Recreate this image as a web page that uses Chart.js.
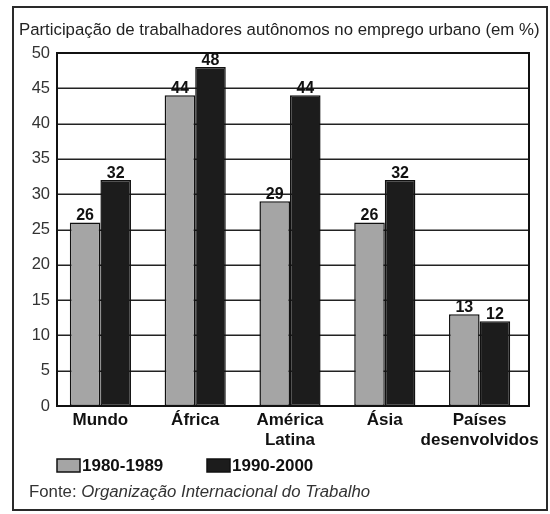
<!DOCTYPE html>
<html>
<head>
<meta charset="utf-8">
<script src="https://cdn.jsdelivr.net/npm/chart.js@4/dist/chart.umd.min.js"></script>
<style>
  html, body { margin: 0; padding: 0; background: #fff; }
  #wrap { position: relative; width: 550px; height: 514px; }
  canvas { display: block; }
</style>
</head>
<body>
<div id="wrap"><canvas id="c" width="550" height="514"></canvas></div>
<script>
// Participação de trabalhadores autônomos no emprego urbano (em %)
const categories = ['Mundo', 'África', ['América', 'Latina'], 'Ásia', ['Países', 'desenvolvidos']];
const series1980 = [26, 44, 29, 26, 13];
const series1990 = [32, 48, 44, 32, 12];
const seriesNames = ['1980-1989', '1990-2000'];
const yTicks = [0, 5, 10, 15, 20, 25, 30, 35, 40, 45, 50];
const titleText = 'Participação de trabalhadores autônomos no emprego urbano (em %)';
const sourceLabel = 'Fonte: ';
const sourceName = 'Organização Internacional do Trabalho';

const FONT = '"Liberation Sans", Arial, Helvetica, sans-serif';
const GRAY = '#a5a5a5';
const BLACK = '#1c1c1c';

// The boxed plot sits a little inside the category band on the left
const FRAME_INSET_LEFT = 4;
const FRAME_INSET_RIGHT = -2;

function frameBox(chart) {
  const a = chart.chartArea;
  return { left: a.left + FRAME_INSET_LEFT, right: a.right - FRAME_INSET_RIGHT, top: a.top, bottom: a.bottom };
}

// Horizontal grid inside the frame, value labels, frame, title, legend and source
const decorations = {
  id: 'decorations',
  beforeDatasetsDraw(chart) {
    const ctx = chart.ctx;
    const f = frameBox(chart);
    const y = chart.scales.y;
    ctx.save();
    ctx.strokeStyle = '#222';
    ctx.lineWidth = 1.5;
    yTicks.forEach(v => {
      const py = Math.round(y.getPixelForValue(v)) + 0.25;
      ctx.beginPath();
      ctx.moveTo(f.left, py);
      ctx.lineTo(f.right, py);
      ctx.stroke();
    });
    ctx.restore();
  },
  afterDatasetsDraw(chart) {
    const ctx = chart.ctx;
    const f = frameBox(chart);
    ctx.save();
    // plot frame
    ctx.strokeStyle = '#111';
    ctx.lineWidth = 2;
    ctx.strokeRect(f.left, f.top, f.right - f.left, f.bottom - f.top);

    // value labels
    ctx.fillStyle = '#111';
    ctx.font = 'bold 16px ' + FONT;
    ctx.textAlign = 'center';
    ctx.textBaseline = 'alphabetic';
    chart.data.datasets.forEach((ds, i) => {
      const meta = chart.getDatasetMeta(i);
      meta.data.forEach((bar, j) => {
        ctx.fillText(String(ds.data[j]), bar.x, bar.y - 2);
      });
    });
    ctx.restore();
  },
  afterDraw(chart) {
    const ctx = chart.ctx;
    ctx.save();
    // outer frame
    ctx.strokeStyle = '#2a2a2a';
    ctx.lineWidth = 2;
    ctx.strokeRect(13, 7, 534, 503);

    // title
    ctx.fillStyle = '#222';
    ctx.font = '16.8px ' + FONT;
    ctx.textAlign = 'left';
    ctx.textBaseline = 'middle';
    ctx.fillText(titleText, 19, 30);

    // legend
    const legendY = 465;
    const items = [
      { x: 57, w: 23, color: GRAY, text: seriesNames[0] },
      { x: 207, w: 23, color: BLACK, text: seriesNames[1] }
    ];
    items.forEach(it => {
      ctx.fillStyle = it.color;
      ctx.fillRect(it.x, legendY - 6, it.w, 13);
      ctx.strokeStyle = '#111';
      ctx.lineWidth = 1.5;
      ctx.strokeRect(it.x, legendY - 6, it.w, 13);
      ctx.fillStyle = '#111';
      ctx.font = 'bold 17px ' + FONT;
      ctx.fillText(it.text, it.x + it.w + 2, legendY + 1);
    });

    // source
    ctx.fillStyle = '#333';
    ctx.font = '16.8px ' + FONT;
    ctx.fillText(sourceLabel, 29, 492);
    const w = ctx.measureText(sourceLabel).width;
    ctx.font = 'italic 16.8px ' + FONT;
    ctx.fillText(sourceName, 29 + w, 492);
    ctx.restore();
  }
};

new Chart(document.getElementById('c'), {
  type: 'bar',
  data: {
    labels: categories,
    datasets: [
      {
        label: seriesNames[0],
        data: series1980,
        backgroundColor: GRAY,
        borderColor: '#111',
        borderWidth: 1.5,
        borderSkipped: false,
        categoryPercentage: 0.645,
        barPercentage: 1.0
      },
      {
        label: seriesNames[1],
        data: series1990,
        backgroundColor: BLACK,
        borderColor: '#111',
        borderWidth: 1.5,
        borderSkipped: false,
        categoryPercentage: 0.645,
        barPercentage: 1.0
      }
    ]
  },
  options: {
    responsive: false,
    animation: false,
    layout: { padding: { left: 12, right: 23, top: 53, bottom: 58 } },
    plugins: {
      legend: { display: false },
      title: { display: false },
      tooltip: { enabled: false }
    },
    scales: {
      x: {
        afterFit(scale) { scale.height = 50; },
        grid: { display: false, drawTicks: false },
        border: { display: false },
        ticks: {
          color: '#111',
          font: { family: FONT, size: 17, weight: 'bold', lineHeight: 1.2 },
          padding: 4,
          maxRotation: 0,
          autoSkip: false
        }
      },
      y: {
        min: 0,
        max: 50,
        afterFit(scale) { scale.width = 41; },
        afterBuildTicks(scale) { scale.ticks = yTicks.map(v => ({ value: v })); },
        grid: { display: false, drawTicks: false },
        border: { display: false },
        ticks: {
          color: '#333',
          font: { family: FONT, size: 16.5 },
          padding: 3
        }
      }
    }
  },
  plugins: [decorations]
});
</script>
</body>
</html>
